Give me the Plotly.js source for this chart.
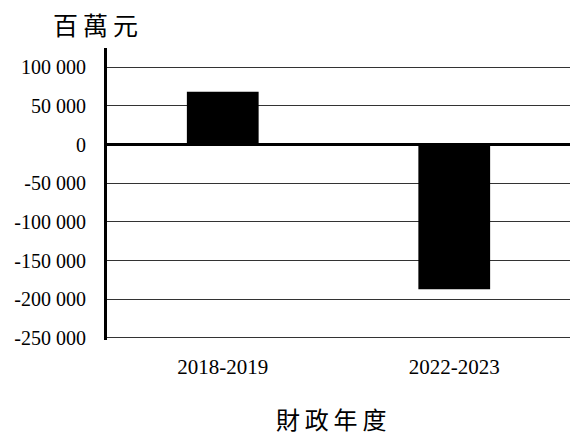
<!DOCTYPE html>
<html>
<head>
<meta charset="utf-8">
<script src="https://cdn.plot.ly/plotly-3.0.1.min.js"></script>
<style>html,body{margin:0;padding:0;background:#fff;}#chart{width:572px;height:435px;}</style>
</head>
<body>
<div id="chart"></div>
<script>
const categories = ["2018-2019", "2022-2023"];
const values = [68500, -187000];
const yTickVals = [100000, 50000, 0, -50000, -100000, -150000, -200000, -250000];
const yTickText = ["100 000", "50 000", "0", "-50 000", "-100 000", "-150 000", "-200 000", "-250 000"];
const yUnit = "百\u2009萬\u2009元";
const xTitle = "財\u2009政\u2009年\u2009度";

const serif = "Liberation Serif, Times New Roman, serif";
const cjk = "Noto Sans CJK TC, Noto Sans CJK SC, sans-serif";

const data = [{
  type: "bar",
  x: categories,
  y: values,
  width: 0.31,
  marker: {color: "#000000", line: {width: 0}},
  hoverinfo: "skip"
}];

const layout = {
  width: 572,
  height: 435,
  margin: {l: 107, r: 2, t: 48, b: 95},
  paper_bgcolor: "#fff",
  plot_bgcolor: "#fff",
  showlegend: false,
  xaxis: {
    type: "category",
    showgrid: false,
    showline: false,
    ticks: "",
    ticklabelstandoff: 12,
    tickfont: {family: serif, size: 21, color: "#000"}
  },
  yaxis: {
    range: [-252700, 125000],
    tickvals: yTickVals,
    ticktext: yTickText,
    showgrid: true,
    gridcolor: "#333",
    gridwidth: 1,
    zeroline: true,
    zerolinecolor: "#000",
    zerolinewidth: 3,
    showline: true,
    linecolor: "#000",
    linewidth: 3,
    ticks: "",
    ticklabelstandoff: 14,
    tickfont: {family: serif, size: 20, color: "#000"}
  },
  annotations: [{
    text: yUnit,
    xref: "paper", yref: "paper",
    x: (51 - 107) / 463, y: 1 + (48 - 24) / 292,
    xanchor: "left", yanchor: "middle",
    showarrow: false,
    font: {family: cjk, size: 25, color: "#000"}
  }, {
    text: xTitle,
    xref: "paper", yref: "paper",
    x: (331 - 107) / 463, y: (340 - 418) / 292,
    xanchor: "center", yanchor: "middle",
    showarrow: false,
    font: {family: cjk, size: 24, color: "#000"}
  }]
};

Plotly.newPlot("chart", data, layout, {staticPlot: true, displayModeBar: false});
</script>
</body>
</html>
